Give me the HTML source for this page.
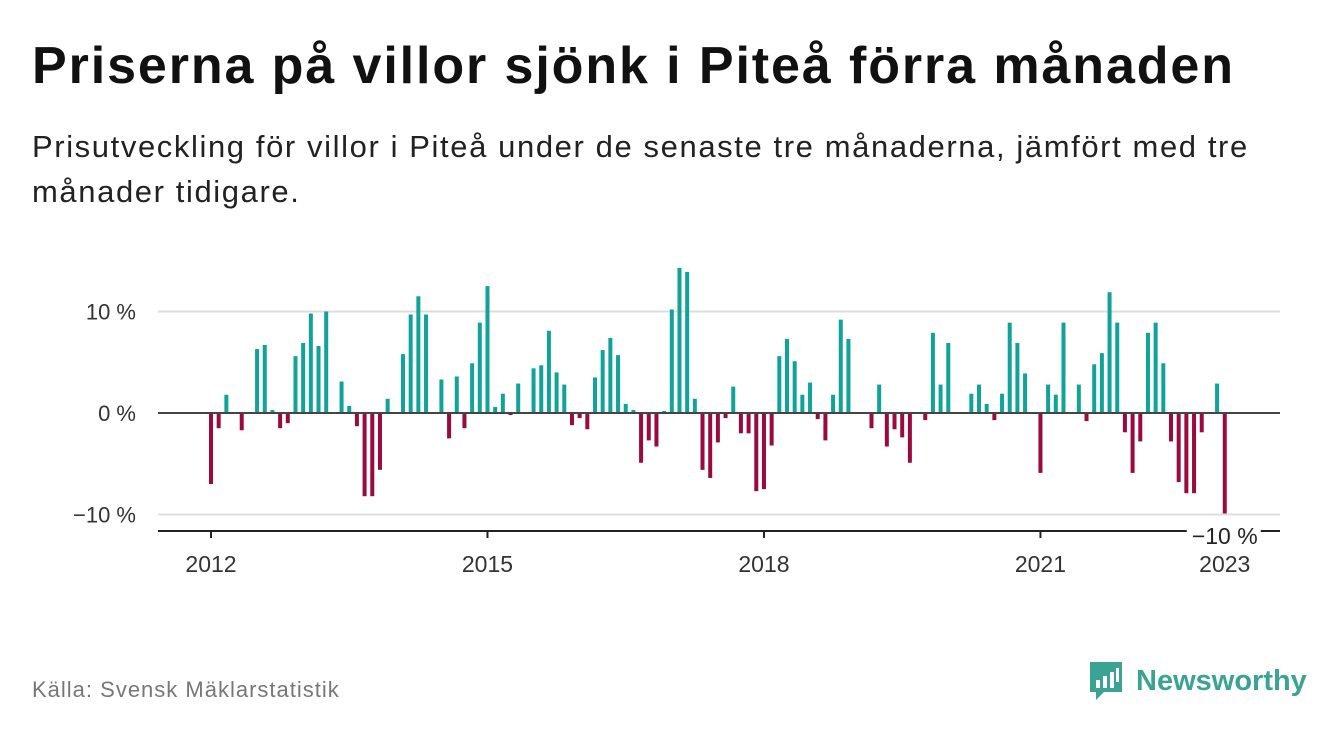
<!DOCTYPE html>
<html><head><meta charset="utf-8"><style>
body{margin:0;width:1340px;height:734px;background:#fff;font-family:"Liberation Sans","DejaVu Sans",sans-serif;overflow:hidden;position:relative}
h1{position:absolute;left:32px;top:36px;margin:0;font-size:52px;font-weight:bold;color:#111;letter-spacing:1.9px;white-space:nowrap}
.sub{position:absolute;left:32px;top:124px;margin:0;font-size:31px;line-height:45px;letter-spacing:1.6px;color:#222;width:1250px}
.src{position:absolute;left:32px;top:677px;font-size:22px;letter-spacing:1px;color:#777}
.logo{position:absolute;left:1088px;top:660px;display:flex;align-items:center}
.logo span{font-size:29px;font-weight:bold;color:#3aa394;margin-left:12px}
</style></head><body>
<h1>Priserna på villor sjönk i Piteå förra månaden</h1>
<p class="sub">Prisutveckling för villor i Piteå under de senaste tre månaderna, jämfört med tre månader tidigare.</p>
<svg id="chart" width="1340" height="734" style="position:absolute;left:0;top:0"></svg>
<div class="src">Källa: Svensk Mäklarstatistik</div>
<div class="logo">
<svg width="36" height="42" viewBox="0 0 36 42"><path d="M2 2h32v30H16l-8 8v-8H2z" fill="#3aa394"/><rect x="8" y="20" width="4" height="8" fill="#fff"/><rect x="15" y="16" width="4" height="12" fill="#fff"/><rect x="22" y="12" width="4" height="16" fill="#fff"/><rect x="28" y="8" width="3" height="14" fill="#fff"/></svg>
<span>Newsworthy</span></div>
<script>
const values=[-7,-1.5,1.8,0,-1.7,0,6.3,6.7,0.3,-1.5,-1,5.6,6.9,9.8,6.6,10,0,3.1,0.7,-1.3,-8.2,-8.2,-5.6,1.4,0,5.8,9.7,11.5,9.7,0,3.3,-2.5,3.6,-1.5,4.9,8.9,12.5,0.6,1.9,-0.2,2.9,0,4.4,4.7,8.1,4.0,2.8,-1.2,-0.5,-1.6,3.5,6.2,7.4,5.7,0.9,0.3,-4.9,-2.7,-3.3,0.2,10.2,14.3,13.9,1.4,-5.6,-6.4,-2.9,-0.5,2.6,-2,-2,-7.7,-7.5,-3.2,5.6,7.3,5.1,1.8,3,-0.6,-2.7,1.8,9.2,7.3,0,0,-1.5,2.8,-3.3,-1.6,-2.4,-4.9,0,-0.7,7.9,2.8,6.9,0,0,1.9,2.8,0.9,-0.7,1.9,8.9,6.9,3.9,0,-5.9,2.8,1.8,8.9,0,2.8,-0.8,4.8,5.9,11.9,8.9,-1.9,-5.9,-2.8,7.9,8.9,4.9,-2.8,-6.8,-7.9,-7.9,-1.9,0,2.9,-9.9];
const startYear=2012;
const yTicks=[10,0,-10];
const yTickLabels=["10 %","0 %","−10 %"];
const xTickYears=[2012,2015,2018,2021,2023];
const NS="http://www.w3.org/2000/svg",svg=document.getElementById('chart');
const x0=211,pxPerMonth=7.68,y0=413,pxPerPct=10.15,L=158,R=1280;
const xs=i=>x0+i*pxPerMonth, ys=v=>y0-v*pxPerPct;
function mk(t,a){const e=document.createElementNS(NS,t);for(const k in a)e.setAttribute(k,a[k]);svg.appendChild(e);return e;}
yTicks.forEach((t,i)=>{
 if(t!==0){const g=mk('line',{x1:L,x2:R,y1:ys(t),y2:ys(t),stroke:'#ddd','stroke-width':2});
 
 }
 const tx=mk('text',{x:136,y:ys(t)+8,'text-anchor':'end','font-size':22,fill:'#333'});tx.textContent=yTickLabels[i];
 
 
});
values.forEach((v,i)=>{
 const y=Math.min(ys(v),y0),h=Math.abs(ys(v)-y0);
 const b=mk('rect',{x:xs(i)-2,y:y,width:4,height:h,fill:v>=0?'#0fa39a':'#9b0a3f'});
 
 
});
const z=mk('line',{x1:L,x2:R,y1:y0,y2:y0,stroke:'#444','stroke-width':2});


const ax=mk('line',{x1:L,x2:R,y1:531,y2:531,stroke:'#222','stroke-width':2});


xTickYears.forEach(yr=>{
 const x=xs((yr-startYear)*12);
 const tk=mk('line',{x1:x,x2:x,y1:531,y2:538,stroke:'#222','stroke-width':2});
 
 
 const t=mk('text',{x:x,y:572,'text-anchor':'middle','font-size':23,fill:'#333'});t.textContent=yr;
 
 
});
const li=values.length-1,lv=values[li];
const bg=mk('rect',{x:xs(li)-38,y:524,width:74,height:22,fill:'#fff'});


const lt=mk('text',{x:xs(li),y:544,'text-anchor':'middle','font-size':23,fill:'#222'});
lt.textContent=(lv<0?'−':'')+Math.abs(Math.round(lv))+' %';


</script>
</body></html>
